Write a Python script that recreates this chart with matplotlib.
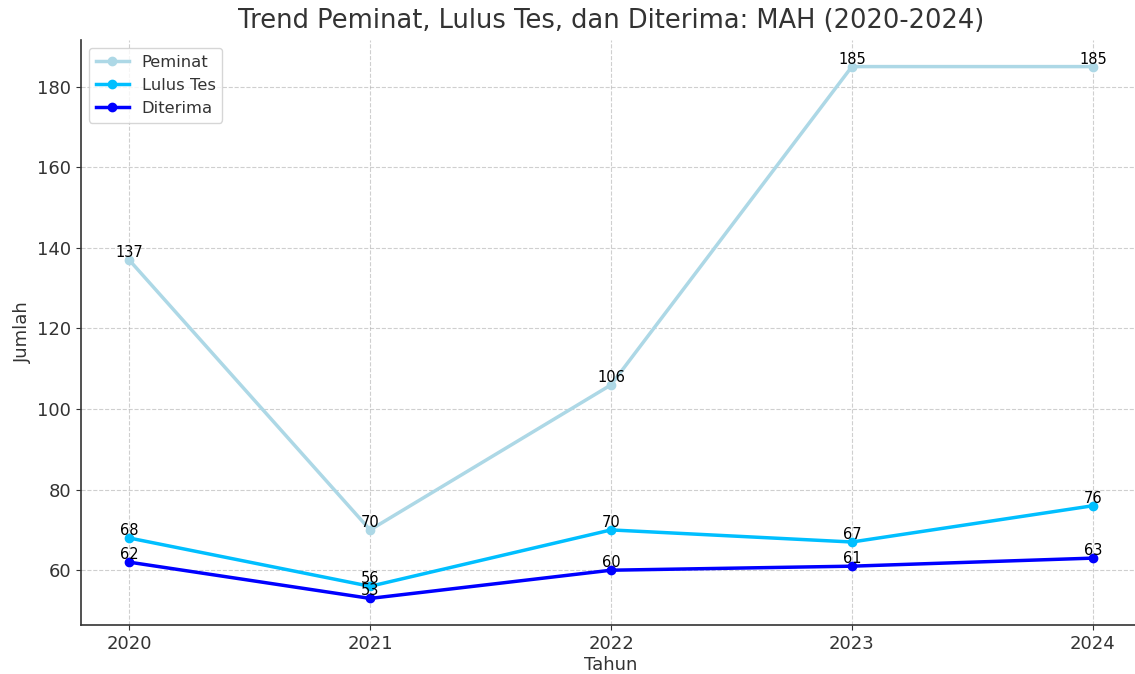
import matplotlib
matplotlib.use('Agg')
from matplotlib import pyplot as plt

tahun = [2020, 2021, 2022, 2023, 2024]
peminat = [137, 70, 106, 185, 185]
lulus_tes = [68, 56, 70, 67, 76]
diterima = [62, 53, 60, 61, 63]

series = [
    ('Peminat', peminat, 'lightblue'),
    ('Lulus Tes', lulus_tes, 'deepskyblue'),
    ('Diterima', diterima, 'blue'),
]

plt.rcParams['text.color'] = '#333333'
plt.rcParams['axes.labelcolor'] = '#333333'
plt.rcParams['xtick.color'] = '#333333'
plt.rcParams['ytick.color'] = '#333333'

fig = plt.figure(figsize=(11.35, 6.74), dpi=100)
ax = fig.add_axes([81 / 1135, 49 / 674, 1060 / 1135, 585 / 674])

for name, vals, col in series:
    ax.plot(tahun, vals, marker='o', color=col, linewidth=2.5, markersize=6, label=name)
    for x, y in zip(tahun, vals):
        ax.text(x, y, str(y), ha='center', va='bottom', fontsize=10.5, color='black')

ax.set_title('Trend Peminat, Lulus Tes, dan Diterima: MAH (2020-2024)', fontsize=18.5, pad=9)
ax.set_xlabel('Tahun', fontsize=13, labelpad=2)
ax.set_ylabel('Jumlah', fontsize=13)
ax.set_xticks(tahun)
ax.tick_params(labelsize=13)
ax.grid(True, linestyle='--', alpha=0.6)
ax.spines['top'].set_visible(False)
ax.spines['right'].set_visible(False)
for s in ('left', 'bottom'):
    ax.spines[s].set_color('#333333')
    ax.spines[s].set_linewidth(1.2)
ax.legend(loc='upper left', fontsize=11.8)

fig.savefig('out.png', dpi=100)
